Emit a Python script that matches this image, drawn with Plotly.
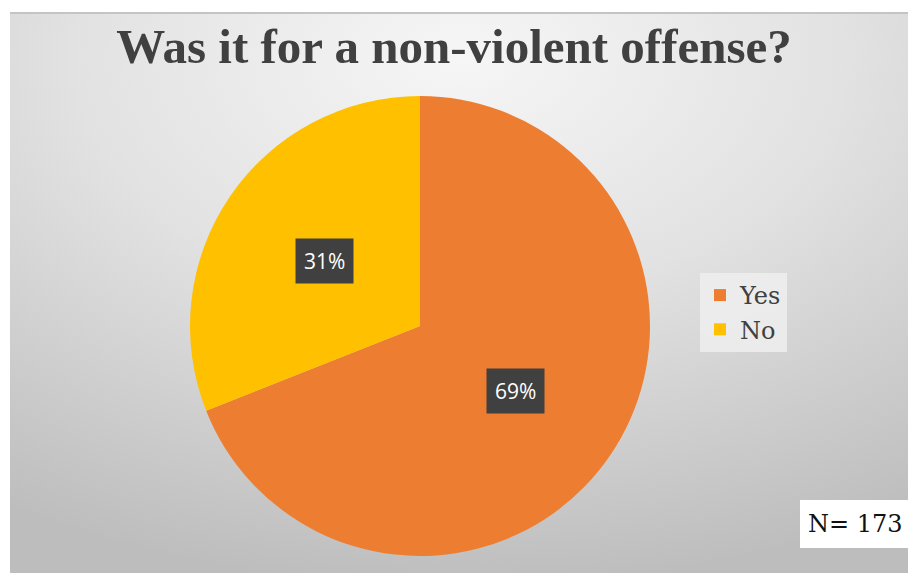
import base64
import math
import plotly.graph_objects as go

# Survey answers
labels = ["Yes", "No"]
values = [69, 31]
colors = ["#ED7D31", "#FFC000"]
title_text = "Was it for a non-violent offense?"
sample_note = "N= 173"

W, H = 908, 573

# Pie geometry in pixels (centre and radius)
PCX, PCY, PR = 420, 326, 230

# Radial grey background used behind the whole chart area
svg = (
    "<svg xmlns='http://www.w3.org/2000/svg' width='898' height='560'>"
    "<defs><radialGradient id='g' cx='0.5' cy='0.08' r='0.95'>"
    "<stop offset='0' stop-color='#f6f6f6'/>"
    "<stop offset='0.45' stop-color='#e2e2e2'/>"
    "<stop offset='1' stop-color='#bdbdbd'/>"
    "</radialGradient></defs>"
    "<rect width='898' height='560' fill='url(#g)'/></svg>"
)
bg_src = "data:image/svg+xml;base64," + base64.b64encode(svg.encode()).decode()

fig = go.Figure(
    go.Pie(
        labels=labels,
        values=values,
        marker=dict(colors=colors, line=dict(width=0)),
        sort=False,
        direction="clockwise",
        rotation=0,
        textinfo="none",
        hoverinfo="label+percent",
        domain=dict(
            x=[(PCX - PR) / W, (PCX + PR) / W],
            y=[(H - PCY - PR) / H, (H - PCY + PR) / H],
        ),
    )
)

# Percentage labels placed halfway out along each slice's middle angle
total = sum(values)
annotations = []
start = 0.0
for v in values:
    frac = v / total
    mid = (start + frac / 2) * 2 * math.pi
    start += frac
    px = PCX + 0.5 * PR * math.sin(mid)
    py = PCY - 0.5 * PR * math.cos(mid)
    annotations.append(
        dict(
            x=px / W, y=1 - py / H, xref="paper", yref="paper",
            text=f"{round(frac * 100)}%", showarrow=False,
            font=dict(family="Open Sans, Liberation Sans, sans-serif", size=21, color="white"),
            bgcolor="#404040", borderpad=8, xanchor="center", yanchor="middle",
        )
    )

annotations.append(
    dict(
        x=855 / W, y=1 - 524 / H, xref="paper", yref="paper",
        text=sample_note, showarrow=False, xanchor="center", yanchor="middle",
        font=dict(family="DejaVu Serif, Liberation Serif, serif", size=24, color="#111111"),
    )
)

fig.update_layout(
    width=W, height=H,
    margin=dict(l=0, r=0, t=0, b=0),
    paper_bgcolor="white",
    title=dict(
        text=f"<b>{title_text}</b>",
        x=0.5, xanchor="center", y=1 - 46 / H, yanchor="middle",
        font=dict(family="Liberation Serif, serif", size=49, color="#404040"),
    ),
    images=[dict(
        source=bg_src, xref="paper", yref="paper",
        x=10 / W, y=1 - 13 / H, sizex=898 / W, sizey=560 / H,
        xanchor="left", yanchor="top", sizing="stretch", layer="below",
    )],
    shapes=[
        dict(
            type="line", xref="paper", yref="paper",
            x0=10 / W, x1=1, y0=1 - 13 / H, y1=1 - 13 / H,
            line=dict(color="#c4c4c4", width=2),
        ),
        dict(
            type="rect", xref="paper", yref="paper",
            x0=800 / W, x1=1, y0=1 - 548 / H, y1=1 - 500 / H,
            fillcolor="white", line=dict(width=0), layer="below",
        ),
    ],
    legend=dict(
        x=700 / W, y=1 - 273 / H, xanchor="left", yanchor="top",
        bgcolor="rgba(238,238,238,0.85)",
        font=dict(family="DejaVu Serif, Liberation Serif, serif", size=24, color="#404040"),
        itemwidth=30,
    ),
    annotations=annotations,
)

fig.write_html("out.html")
